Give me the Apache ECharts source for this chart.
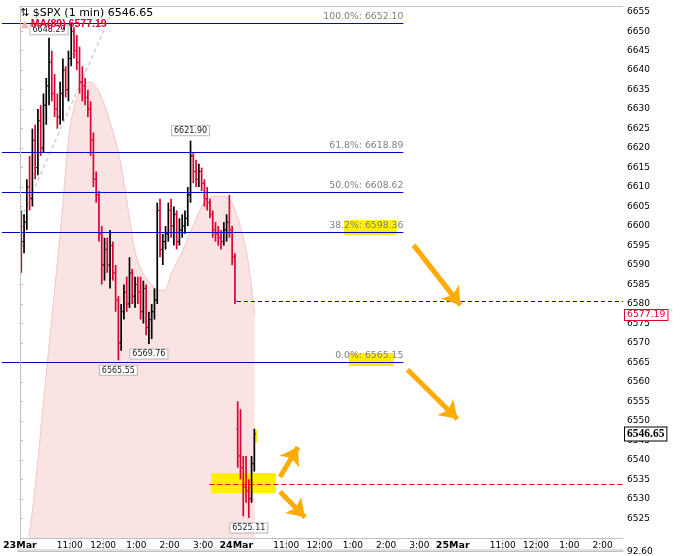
<!DOCTYPE html>
<html><head><meta charset="utf-8">
<script src="https://cdn.jsdelivr.net/npm/echarts@6/dist/echarts.min.js"></script>
<style>html,body{margin:0;padding:0;background:#fff}#c{width:682px;height:556px}</style>
</head><body><div id="c"></div>
<script>
// ---- axis ticks ----
const xTickMinutes = [0, 90, 150, 210, 270, 330, 390, 480, 540, 600, 660, 720, 780, 870, 930, 990, 1050];
const xTickLabels = ['23Mar','11:00','12:00','1:00','2:00','3:00','24Mar','11:00','12:00','1:00','2:00','3:00','25Mar','11:00','12:00','1:00','2:00'];
const yTicks = [6525,6530,6535,6540,6545,6550,6555,6560,6565,6570,6575,6580,6585,6590,6595,6600,6605,6610,6615,6620,6625,6630,6635,6640,6645,6650,6655];

// ---- 5-minute bars (day 0 = 23Mar, day 1 = 24Mar) ----
const barDay1Times = ['09:30','09:35','09:40','09:45','09:50','09:55','10:00','10:05','10:10','10:15','10:20','10:25','10:30','10:35','10:40','10:45','10:50','10:55','11:00','11:05','11:10','11:15','11:20','11:25','11:30','11:35','11:40','11:45','11:50','11:55','12:00','12:05','12:10','12:15','12:20','12:25','12:30','12:35','12:40','12:45','12:50','12:55','13:00','13:05','13:10','13:15','13:20','13:25','13:30','13:35','13:40','13:45','13:50','13:55','14:00','14:05','14:10','14:15','14:20','14:25','14:30','14:35','14:40','14:45','14:50','14:55','15:00','15:05','15:10','15:15','15:20','15:25','15:30','15:35','15:40','15:45','15:50','15:55'];
const barDay2Times = ['09:30','09:35','09:40','09:45','09:50','09:55','10:00'];
const barOpen = [6600,6596,6601,6610,6607,6622,6615,6627,6620,6631,6636,6642,6634,6630,6628,6634,6640,6635,6643,6650,6645,6642,6637,6636,6633,6630,6622,6612,6608,6598,6590,6594,6590,6595,6588,6581,6570,6578,6583,6580,6588,6582,6585,6583,6578,6584,6574,6576,6578,6581,6604,6594,6596,6598,6604,6600,6603,6596,6599,6600,6602,6608,6618,6614,6612,6614,6611,6607,6606,6603,6599,6598,6597,6596,6599,6601,6599,6592,
  6548,6541,6538,6533,6532,6530,6539];
const barHigh = [6604,6603,6612,6618,6625,6626,6630,6631,6634,6638,6648.29,6645,6639,6634,6637,6643,6641,6645,6652.10,6651,6649,6646,6641,6638,6635,6632,6624,6614,6609,6600,6597,6597,6599,6596,6590,6582,6580,6585,6587,6592,6589,6587,6587,6587,6586,6585,6578,6580,6584,6606,6607,6598,6600,6606,6607,6605,6604,6602,6603,6604,6610,6621.90,6619,6617,6616,6615,6612,6610,6607,6604,6601,6600,6599,6601,6603,6608,6600,6593,
  6555,6553,6541,6541,6535,6541,6548];
const barLow = [6588,6593,6599,6604,6605,6612,6613,6618,6619,6626,6631,6632,6628,6625,6626,6627,6633,6632,6641,6643,6640,6634,6632,6631,6628,6618,6610,6606,6596,6585,6586,6588,6584,6586,6578,6565.55,6568,6576,6578,6579,6580,6579,6580,6576,6575,6572,6569.76,6571,6576,6580,6592,6590,6594,6596,6597,6595,6594,6595,6597,6598,6600,6606,6611,6610,6610,6609,6605,6604,6602,6597,6596,6595,6594,6595,6596,6597,6590,6580,
  6538,6535,6525.5,6529,6525.11,6529,6537];
const barClose = [6596,6601,6610,6607,6622,6615,6627,6620,6631,6636,6642,6634,6630,6628,6634,6640,6635,6643,6650,6645,6642,6637,6636,6633,6630,6622,6612,6608,6598,6590,6594,6590,6595,6588,6581,6570,6578,6583,6580,6588,6582,6585,6583,6578,6584,6574,6576,6578,6581,6604,6594,6596,6598,6604,6600,6603,6596,6599,6600,6602,6608,6618,6614,6612,6614,6611,6607,6606,6603,6599,6598,6597,6596,6599,6601,6599,6592,6580.8,
  6541,6538,6533,6532,6530,6539,6546.65];

// ---- MA(89) curve ----
const maDays = [0,0,0,0,0,0,0,0,0,0,0,0,0,0,0,0,0,0,0,0,0,0,0,0,0,1,1,1];
const maTimes = ['09:46','09:55','10:20','10:45','11:00','11:16','11:36','11:57','12:15','12:28','12:39','12:48','12:57','13:09','13:27','13:41','13:50','14:03','14:21','14:39','14:57','15:09','15:27','15:45','15:56','09:39','09:51','10:03'];
const maValues = [6520.2,6529.7,6565.6,6601.5,6624.6,6634.1,6637.0,6633.1,6625.4,6618.7,6610.0,6601.5,6593.9,6588.7,6584.9,6583.5,6583.5,6587.9,6593.0,6598.9,6604.8,6607.2,6607.7,6607.2,6604.8,6598.9,6591.3,6577.19];

// ---- Fibonacci retracement ----
const fibPcts = ['100.0%','61.8%','50.0%','38.2%','0.0%'];
const fibValues = [6652.10, 6618.89, 6608.62, 6598.36, 6565.15];

// ---- price callouts ----
const calloutDays = [0,0,0,0,1];
const calloutTimes = ['10:20','14:35','13:20','12:25','09:50'];
const calloutValues = [6648.29, 6621.90, 6569.76, 6565.55, 6525.11];
const calloutSides = ['top','top','bottom','bottom','bottom'];

const lastClose = 6546.65, maLast = 6577.19;
const prevClose = 6580.8, markLevel = 6533.7;
const lowerPanelTicks = [92.6];

function toMin(day, t){ const p = t.split(':').map(Number); return day*390 + p[0]*60 + p[1] - 570; }

const X_MIN = -32.34, X_MAX = 1086.8, Y_MIN = 6519.95, Y_MAX = 6656.46;
const RED = '#dd0033', BLUE = '#0000cc', GREY = '#c0c0c0', ORANGE = '#ffab00', YEL = '#ffee00';
const FONT = 'DejaVu Sans';
const NOLINE = {color:'rgba(0,0,0,0)', width:1, type:'solid'};

const bars = [];
barDay1Times.forEach((t,i)=> bars.push([toMin(0,t)+2.5, barOpen[i], barHigh[i], barLow[i], barClose[i]]));
barDay2Times.forEach((t,j)=>{ const i = barDay1Times.length + j; bars.push([toMin(1,t)+2.5, barOpen[i], barHigh[i], barLow[i], barClose[i]]); });

const maData = maTimes.map((t,i)=>[toMin(maDays[i], t), maValues[i]]);

const fibLines = fibValues.map((v,i)=>[
  {coord:[X_MIN, v], lineStyle:{color:BLUE, width:1, type:'solid'},
   label:{show:true, position:'insideEndTop', distance:[0,2], formatter: fibPcts[i] + ': ' + v.toFixed(2),
          color:'#808080', fontSize:9.3, fontFamily:FONT}},
  {coord:[691, v]}
]);

const plain = {show:false};
const overlayLines = fibLines.concat([
  [{coord:[391, prevClose], lineStyle:{color:BLUE, width:1, type:[4,3]}, label:plain},{coord:[X_MAX, prevClose]}],
  [{coord:[341.3, markLevel], lineStyle:{color:'#ee0000', width:1, type:[5,3]}, label:plain},{coord:[X_MAX, markLevel]}],
  // frame
  [{coord:[0, Y_MIN], lineStyle:{color:GREY, width:1, type:'solid'}, label:plain},{coord:[0, Y_MAX]}],
  [{coord:[0, Y_MAX], lineStyle:{color:GREY, width:1, type:'solid'}, label:plain},{coord:[X_MAX, Y_MAX]}],
  [{coord:[0, Y_MIN], lineStyle:{color:GREY, width:1, type:'solid'}, label:plain},{coord:[X_MAX, Y_MIN]}]
]);

const tagLines = [
  [{coord:[X_MIN, maLast], lineStyle:NOLINE,
    label:{show:true, position:'end', distance:2, formatter: maLast.toFixed(2), color:RED, fontSize:9.3, fontFamily:FONT,
           backgroundColor:'#fff', borderColor:RED, borderWidth:1, padding:[1,2,0,2]}},{coord:[X_MAX, maLast]}],
  [{coord:[X_MIN, lastClose], lineStyle:NOLINE,
    label:{show:true, position:'end', distance:2, formatter: lastClose.toFixed(2), color:'#000', fontSize:11.5, fontWeight:'bold',
           fontFamily:'Liberation Serif', backgroundColor:'#fff', borderColor:'#000', borderWidth:1, padding:[1,2,0,2]}},{coord:[X_MAX, lastClose]}]
];

const calloutPoints = calloutValues.map((v,i)=>({
  coord:[toMin(calloutDays[i], calloutTimes[i]) + 2.5, v],
  label:{show:true, position: calloutSides[i], distance: i === 0 ? 3 : 5,
         formatter: v.toFixed(2), color:'#222', fontSize:8, fontFamily:FONT,
         backgroundColor:'#fff', borderColor:'#b8b8b8', borderWidth:1, padding:[1,2,0,2]}
}));

const chart = echarts.init(document.getElementById('c'), null, {renderer:'canvas'});
chart.setOption({
  animation:false,
  backgroundColor:'#fff',
  title:[
    {text:'⇅ $SPX (1 min) 6546.65', left:20, top:8, padding:0, z:30,
     textStyle:{fontFamily:FONT, fontSize:11, fontWeight:'normal', color:'#000'}},
    {text:'{tri|▲}{ma|MA(89) 6577.19}', left:21, top:19, padding:0, z:30,
     textStyle:{rich:{tri:{color:'#f2b4bc', fontSize:10, fontFamily:FONT, padding:[0,2,0,0]},
                      ma:{color:RED, fontSize:10.5, fontFamily:'Liberation Sans'}}}}
  ],
  grid:[
    {left:0, right:59, top:6, bottom:18},
    {left:18, right:59, top:550, bottom:0, show:true, borderColor:GREY, borderWidth:1, backgroundColor:'transparent'}
  ],
  xAxis:[
    {type:'value', gridIndex:0, min:X_MIN, max:X_MAX,
     axisLine:{show:false}, splitLine:{show:false},
     axisTick:{show:true, customValues:xTickMinutes, length:11, lineStyle:{color:'#cccccc'}},
     axisLabel:{customValues:xTickMinutes, margin:3, fontSize:9, fontFamily:FONT, color:'#000',
       formatter:(v)=>{ const i = xTickMinutes.indexOf(v); if(i<0) return ''; const s = xTickLabels[i]; return /Mar/.test(s) ? '{b|'+s+'}' : s; },
       rich:{b:{fontWeight:'bold', fontSize:9.5, fontFamily:FONT, color:'#000'}}}},
    {type:'value', gridIndex:1, min:0, max:1, show:false}
  ],
  yAxis:[
    {type:'value', gridIndex:0, position:'right', min:Y_MIN, max:Y_MAX,
     axisLine:{show:true, lineStyle:{color:GREY}}, splitLine:{show:false},
     axisTick:{show:true, customValues:yTicks, length:3, lineStyle:{color:GREY}},
     axisLabel:{customValues:yTicks, margin:4, fontSize:9, fontFamily:FONT, color:'#000', formatter:(v)=>String(v)}},
    {type:'value', gridIndex:1, position:'right', min:92.6, max:92.8,
     axisLine:{show:true, lineStyle:{color:GREY}}, splitLine:{show:false},
     axisTick:{show:false},
     axisLabel:{customValues:lowerPanelTicks, margin:4, fontSize:9, fontFamily:FONT, color:'#000', formatter:(v)=>v.toFixed(2)}}
  ],
  series:[
    {name:'MA', type:'line', z:1, data:maData, smooth:0.35, symbol:'none', clip:true,
     lineStyle:{color:'#f2c6c6', width:1}, areaStyle:{color:'#f9e3e3', origin:'start', opacity:1}},
    {name:'highlight', type:'line', z:2, data:[], silent:true,
     markArea:{silent:true, z:2, itemStyle:{color:YEL, opacity:1}, data:[
       [{coord:[584, 6601.5]},{coord:[679, 6597.7]}],
       [{coord:[593, 6567.4]},{coord:[674, 6564.1]}],
       [{coord:[345, 6536.6]},{coord:[461.6, 6531.5]}],
       [{coord:[420.4, 6547.7]},{coord:[427.6, 6544.4]}]
     ]}},
    {name:'trend', type:'line', z:3, data:[[1.8, 6601.8],[170.7, Y_MAX]], symbol:'none',
     lineStyle:{color:'#cfcfcf', width:1.5, type:[4,3]}},
    {name:'SPX', type:'custom', z:10, data:bars, encode:{x:0, y:[1,2,3,4]}, clip:true,
     renderItem:(params, api)=>{
       const m = api.value(0), o = api.value(1), h = api.value(2), l = api.value(3), c = api.value(4);
       const pH = api.coord([m,h]), pL = api.coord([m,l]), pO = api.coord([m,o]), pC = api.coord([m,c]);
       const col = c >= o ? '#000' : RED;
       return {type:'group', children:[
         {type:'line', z:10, shape:{x1:pH[0], y1:pH[1], x2:pL[0], y2:pL[1]}, style:{stroke:col, lineWidth:1.7}},
         {type:'line', z:10, shape:{x1:pO[0]-1.6, y1:pO[1], x2:pO[0], y2:pO[1]}, style:{stroke:col, lineWidth:1}},
         {type:'line', z:10, shape:{x1:pC[0], y1:pC[1], x2:pC[0]+1.6, y2:pC[1]}, style:{stroke:col, lineWidth:1}}
       ]};
     }},
    {name:'overlay', type:'line', z:12, data:[], silent:true,
     markLine:{silent:true, z:12, symbol:['none','none'], animation:false, label:{show:false}, data:overlayLines},
     markPoint:{silent:true, z:12, symbol:'circle', symbolSize:1, itemStyle:{color:'rgba(0,0,0,0)'}, data:calloutPoints}},
    {name:'arrows', type:'line', z:13, data:[], silent:true,
     markLine:{silent:true, z:13, symbol:['none','arrow'], symbolSize:17, label:{show:false},
       lineStyle:{color:ORANGE, width:5, type:'solid'}, data:[
         [{coord:[709.4, 6595.1]},{coord:[793.8, 6579.7]}],
         [{coord:[698.6, 6563.1]},{coord:[788.4, 6550.5]}],
         [{coord:[468.8, 6535.6]},{coord:[501.1, 6543.3]}],
         [{coord:[468.8, 6531.8]},{coord:[513.7, 6525.3]}]
       ]}},
    {name:'tags', type:'line', z:14, data:[], silent:true,
     markLine:{silent:true, z:14, symbol:['none','none'], animation:false, label:{show:false}, data:tagLines}}
  ]
});
</script></body></html>
